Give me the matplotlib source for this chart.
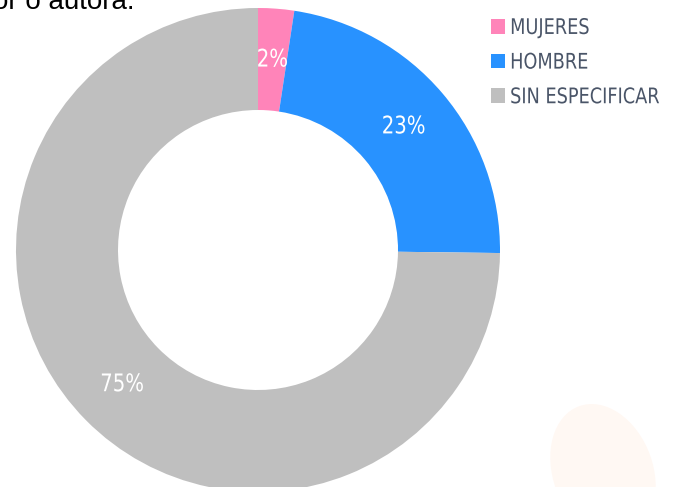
import matplotlib.pyplot as plt
from matplotlib.patches import Ellipse
from matplotlib.patheffects import AbstractPathEffect
from matplotlib.transforms import Affine2D

categories = ['MUJERES', 'HOMBRE', 'SIN ESPECIFICAR']
values = [2.4, 22.8, 74.8]
colors = ['#ff84b9', '#2892ff', '#bfbfbf']

W, H = 676, 487


class Squeeze(AbstractPathEffect):
    """narrow the glyphs horizontally (the source font is very condensed)"""
    def __init__(self, sx, about='left'):
        super().__init__()
        self.sx = sx
        self.about = about

    def draw_path(self, renderer, gc, tpath, affine, rgbFace=None):
        ext = tpath.get_extents()
        cx = ext.x0 if self.about == 'left' else (ext.x0 + ext.x1) / 2
        t = Affine2D().translate(-cx, 0).scale(self.sx, 1).translate(cx, 0) + affine
        renderer.draw_path(gc, tpath, t, rgbFace)


fig = plt.figure(figsize=(W / 100, H / 100), dpi=100)
ax = fig.add_axes([0, 0, 1, 1])

# faint background blob bottom right
ax.add_patch(Ellipse((603, H - 472), 100, 140, angle=20, color='#fff8f3', lw=0, zorder=0))

wedges, texts, autotexts = ax.pie(
    values, colors=colors, startangle=90, counterclock=False,
    center=(258, H - 250), radius=242,
    wedgeprops=dict(width=102, linewidth=0),
    autopct='%.0f%%', pctdistance=191 / 242,
    textprops=dict(color='white', fontsize=17.5, family='DejaVu Sans', fontstretch='condensed'))
for t in autotexts:
    t.set_path_effects([Squeeze(0.9, about='center')])

ax.set_xlim(0, W)
ax.set_ylim(0, H)
ax.set_aspect('equal')
ax.axis('off')

# cut-off caption at the top
ax.text(135, H - 9, 'Elaboración propia por autor o autora.', ha='right', va='baseline',
        fontsize=20, family='Liberation Sans', color='black')

leg = ax.legend(wedges, categories, loc='upper left', bbox_to_anchor=(485 / W, 1 - 11.5 / H),
                frameon=False, handlelength=0.65, handleheight=0.65, handletextpad=0.21,
                labelspacing=0.68, borderaxespad=0, borderpad=0.3,
                prop=dict(family='DejaVu Sans', stretch='condensed', size=15.5))
for t in leg.get_texts():
    t.set_color('#4a5568')
    t.set_path_effects([Squeeze(0.915)])

fig.savefig('out.png', dpi=100)
